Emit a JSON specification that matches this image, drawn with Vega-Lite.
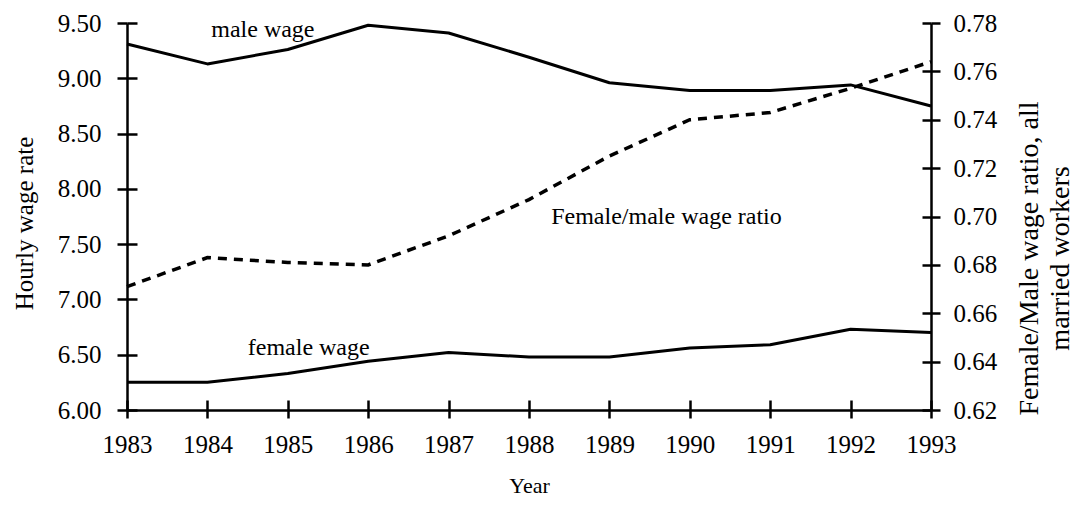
{
  "$schema": "https://vega.github.io/schema/vega-lite/v6.json",
  "width": 804,
  "height": 387,
  "autosize": {"type": "none"},
  "padding": {"left": 127, "top": 23, "right": 143, "bottom": 100},
  "background": "white",
  "config": {
    "view": {"stroke": null},
    "font": "Liberation Serif",
    "axis": {
      "grid": false,
      "domainColor": "black",
      "tickColor": "black",
      "labelColor": "black",
      "titleColor": "black",
      "domainWidth": 2.5,
      "tickWidth": 2.5,
      "labelFont": "Liberation Serif",
      "titleFont": "Liberation Serif",
      "titleFontWeight": "normal",
      "labelFontSize": 25,
      "titleFontSize": 25
    },
    "text": {"font": "Liberation Serif"}
  },
  "datasets": {
    "wages": [
      {"year": 1983, "series": "male", "wage": 9.31},
      {"year": 1984, "series": "male", "wage": 9.13},
      {"year": 1985, "series": "male", "wage": 9.26},
      {"year": 1986, "series": "male", "wage": 9.48},
      {"year": 1987, "series": "male", "wage": 9.41},
      {"year": 1988, "series": "male", "wage": 9.19},
      {"year": 1989, "series": "male", "wage": 8.96},
      {"year": 1990, "series": "male", "wage": 8.89},
      {"year": 1991, "series": "male", "wage": 8.89},
      {"year": 1992, "series": "male", "wage": 8.94},
      {"year": 1993, "series": "male", "wage": 8.75},
      {"year": 1983, "series": "female", "wage": 6.25},
      {"year": 1984, "series": "female", "wage": 6.25},
      {"year": 1985, "series": "female", "wage": 6.33},
      {"year": 1986, "series": "female", "wage": 6.44},
      {"year": 1987, "series": "female", "wage": 6.52},
      {"year": 1988, "series": "female", "wage": 6.48},
      {"year": 1989, "series": "female", "wage": 6.48},
      {"year": 1990, "series": "female", "wage": 6.56},
      {"year": 1991, "series": "female", "wage": 6.59},
      {"year": 1992, "series": "female", "wage": 6.73},
      {"year": 1993, "series": "female", "wage": 6.70}
    ],
    "ratio": [
      {"year": 1983, "ratio": 0.671},
      {"year": 1984, "ratio": 0.683},
      {"year": 1985, "ratio": 0.681},
      {"year": 1986, "ratio": 0.680},
      {"year": 1987, "ratio": 0.692},
      {"year": 1988, "ratio": 0.707},
      {"year": 1989, "ratio": 0.725},
      {"year": 1990, "ratio": 0.740},
      {"year": 1991, "ratio": 0.743},
      {"year": 1992, "ratio": 0.753},
      {"year": 1993, "ratio": 0.764}
    ],
    "notes": [
      {"year": 1984.69, "wage": 9.37, "label": "male wage"},
      {"year": 1985.26, "wage": 6.50, "label": "female wage"},
      {"year": 1989.71, "wage": 7.68, "label": "Female/male wage ratio"}
    ]
  },
  "layer": [
    {
      "data": {"name": "wages"},
      "mark": {"type": "line", "interpolate": "linear", "strokeWidth": 3, "strokeJoin": "round", "color": "black"},
      "encoding": {
        "x": {
          "field": "year", "type": "quantitative",
          "scale": {"domain": [1983, 1993], "nice": false, "zero": false},
          "axis": {
            "orient": "bottom", "values": [1983, 1984, 1985, 1986, 1987, 1988, 1989, 1990, 1991, 1992, 1993],
            "format": "d", "tickSize": 8, "labelPadding": 14, "title": "Year",
            "titleFontSize": 22, "titlePadding": 18, "labelFlush": false, "labelOverlap": false
          }
        },
        "y": {
          "field": "wage", "type": "quantitative",
          "scale": {"domain": [6, 9.5], "nice": false, "zero": false},
          "axis": {
            "orient": "left", "values": [6, 6.5, 7, 7.5, 8, 8.5, 9, 9.5],
            "format": ".2f", "tickSize": 10, "labelPadding": 16,
            "title": "Hourly wage rate", "titlePadding": 20, "titleY": 200, "labelFlush": false, "labelOverlap": false
          }
        },
        "detail": {"field": "series"}
      }
    },
    {
      "data": {"name": "wages"},
      "mark": {"type": "line", "opacity": 0},
      "encoding": {
        "x": {
          "field": "year", "type": "quantitative",
          "axis": {
            "orient": "bottom", "values": [1983, 1984, 1985, 1986, 1987, 1988, 1989, 1990, 1991, 1992, 1993],
            "tickSize": -10, "labels": false, "domain": false, "title": null
          }
        },
        "y": {
          "field": "wage", "type": "quantitative",
          "scale": {"domain": [6, 9.5], "nice": false, "zero": false},
          "axis": {
            "orient": "left", "values": [6, 6.5, 7, 7.5, 8, 8.5, 9, 9.5],
            "tickSize": -10, "labels": false, "domain": false, "title": null
          }
        },
        "detail": {"field": "series"}
      }
    },
    {
      "data": {"name": "ratio"},
      "mark": {"type": "line", "interpolate": "linear", "strokeWidth": 3.5, "strokeDash": [9, 7], "color": "black"},
      "encoding": {
        "x": {"field": "year", "type": "quantitative", "axis": null},
        "y": {
          "field": "ratio", "type": "quantitative",
          "scale": {"domain": [0.62, 0.78], "nice": false, "zero": false},
          "axis": {
            "orient": "right", "values": [0.62, 0.64, 0.66, 0.68, 0.70, 0.72, 0.74, 0.76, 0.78],
            "format": ".2f", "tickSize": 9, "labelPadding": 13,
            "title": ["Female/Male wage ratio,  all", "married workers"],
            "titleAngle": 270, "titleBaseline": "top", "titleAlign": "center", "titleFontSize": 28, "titleLineHeight": 31,
            "titleX": 84, "titleY": 235, "labelFlush": false, "labelOverlap": false
          }
        }
      }
    },
    {
      "data": {"name": "ratio"},
      "mark": {"type": "line", "opacity": 0},
      "encoding": {
        "x": {"field": "year", "type": "quantitative", "axis": null},
        "y": {
          "field": "ratio", "type": "quantitative",
          "scale": {"domain": [0.62, 0.78], "nice": false, "zero": false},
          "axis": {
            "orient": "right", "values": [0.62, 0.64, 0.66, 0.68, 0.70, 0.72, 0.74, 0.76, 0.78],
            "tickSize": -9, "labels": false, "domain": false, "title": null
          }
        }
      }
    },
    {
      "data": {"name": "notes"},
      "mark": {"type": "text", "fontSize": 24, "align": "center", "baseline": "alphabetic", "color": "black"},
      "encoding": {
        "x": {"field": "year", "type": "quantitative", "axis": null},
        "y": {
          "field": "wage", "type": "quantitative",
          "scale": {"domain": [6, 9.5], "nice": false, "zero": false},
          "axis": null
        },
        "text": {"field": "label"}
      }
    }
  ],
  "resolve": {"scale": {"y": "independent"}, "axis": {"x": "independent", "y": "independent"}}
}
